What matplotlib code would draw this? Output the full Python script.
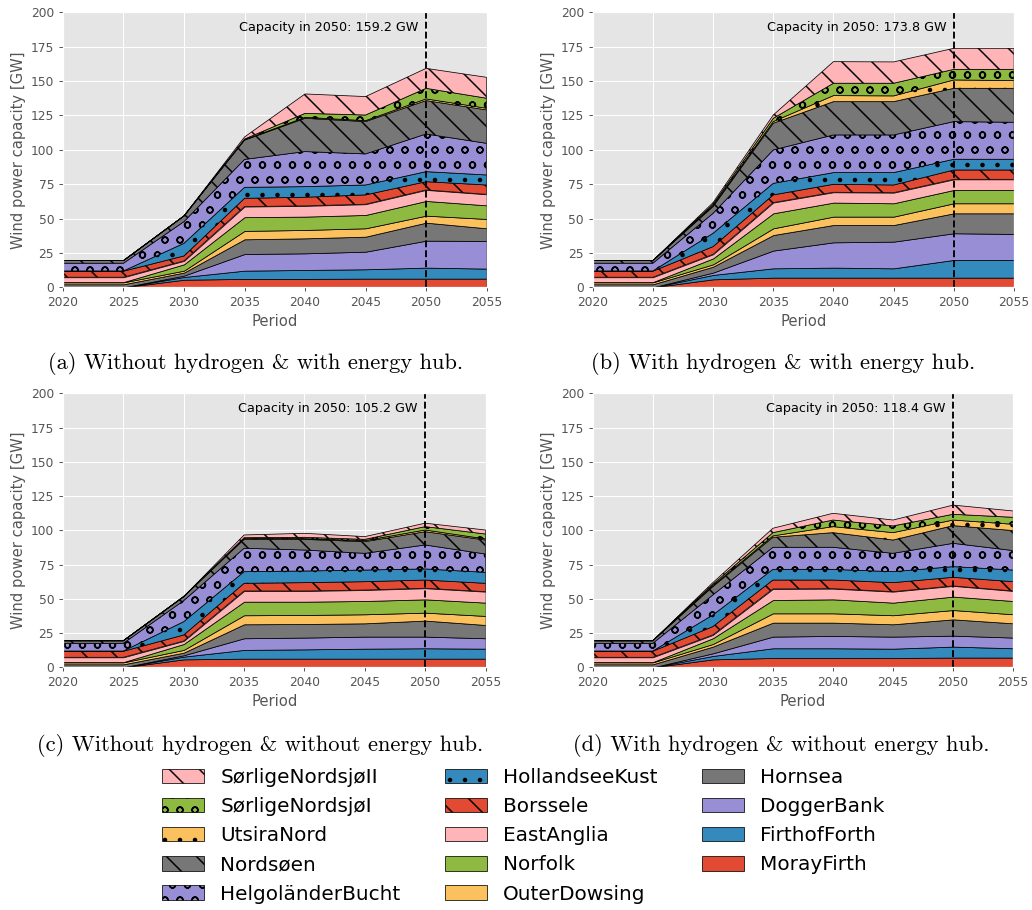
import matplotlib.pyplot as plt
import numpy as np

plt.style.use('ggplot')
plt.rcParams['font.size'] = 9.8
plt.rcParams['hatch.color'] = 'black'
plt.rcParams['hatch.linewidth'] = 1.2

years = [2020, 2025, 2030, 2035, 2040, 2045, 2050, 2055]
sites = ["MorayFirth", "FirthofForth", "DoggerBank", "Hornsea", "OuterDowsing",
         "Norfolk", "EastAnglia", "Borssele", "HollandseeKust", "HelgoländerBucht",
         "Nordsøen", "UtsiraNord", "SørligeNordsjøI", "SørligeNordsjøII"]
colors = ['#E24A33', '#348ABD', '#988ED5', '#777777', '#FBC15E', '#8EBA42', '#FFB5B8'] * 2
hatches = [None] * 7 + ['\\', '.', 'o', '\\', '.', 'o', '\\']

# capacity per site [GW], one row per site (bottom -> top), one column per period
cap_a = [[0, 0, 5.5, 6.1, 6.1, 6.3, 6.3, 6.3],
         [0, 0, 2.0, 6.0, 6.5, 6.8, 8.0, 7.3],
         [0, 0, 1.0, 12.1, 12.1, 12.8, 19.6, 20.1],
         [2.2, 2.2, 2.2, 10.7, 10.9, 10.9, 13.1, 9.2],
         [1.4, 1.4, 1.4, 6.1, 6.1, 6.1, 5.1, 6.8],
         [0.2, 0.2, 4.6, 10.0, 9.7, 9.7, 10.7, 9.9],
         [3.5, 3.5, 2.5, 7.7, 7.8, 7.8, 8.0, 8.0],
         [4.4, 4.4, 3.6, 6.0, 6.3, 6.8, 6.0, 6.8],
         [0.2, 0.2, 9.2, 8.0, 7.7, 7.2, 7.3, 7.3],
         [5.6, 5.6, 15.8, 20.3, 25.5, 22.6, 27.4, 23.0],
         [1.9, 1.9, 4.1, 14.0, 24.2, 23.5, 24.3, 24.3],
         [0, 0, 0, 0.3, 0.7, 0.7, 1.2, 1.2],
         [0, 0, 0, 0.5, 2.9, 4.1, 7.7, 7.3],
         [0, 0, 0, 1.5, 14.1, 13.4, 14.5, 15.2]]

cap_b = [[0, 0, 5.8, 7.0, 7.0, 7.0, 7.0, 7.0],
         [0, 0, 3.2, 6.8, 7.3, 6.8, 12.9, 12.9],
         [0, 0, 1.7, 12.9, 18.4, 19.4, 19.4, 18.9],
         [2.2, 2.2, 4.3, 11.3, 12.6, 12.1, 14.5, 15.0],
         [1.4, 1.4, 1.7, 4.9, 6.1, 6.1, 7.3, 7.3],
         [0.2, 0.2, 4.3, 10.9, 10.2, 9.7, 9.7, 9.7],
         [3.5, 3.5, 3.0, 7.8, 7.5, 7.7, 7.7, 7.7],
         [4.4, 4.4, 5.6, 5.6, 5.8, 5.6, 6.8, 6.8],
         [0.2, 0.2, 9.7, 8.4, 8.5, 9.0, 7.8, 7.8],
         [5.6, 5.6, 14.5, 24.3, 27.4, 27.4, 27.4, 26.9],
         [1.9, 1.9, 4.9, 19.4, 24.2, 24.2, 24.2, 24.7],
         [0, 0, 0.7, 1.2, 4.4, 4.2, 6.1, 5.6],
         [0, 0, 1.0, 2.4, 9.0, 9.2, 7.7, 8.2],
         [0, 0, 1.2, 2.4, 15.7, 15.5, 15.3, 15.3]]

cap_c = [[0, 0, 5.8, 6.3, 6.3, 6.3, 6.3, 6.3],
         [0, 0, 2.0, 6.4, 6.8, 7.3, 7.6, 7.3],
         [0, 0, 1.0, 8.5, 8.6, 8.8, 8.5, 7.6],
         [2.2, 2.2, 1.9, 10.2, 9.9, 9.7, 11.7, 9.7],
         [1.4, 1.4, 2.0, 6.6, 6.6, 6.6, 5.8, 6.6],
         [0.2, 0.2, 4.3, 9.9, 9.7, 9.7, 9.7, 9.7],
         [3.5, 3.5, 2.2, 7.8, 7.8, 8.0, 8.1, 8.0],
         [4.4, 4.4, 4.4, 5.6, 6.1, 6.1, 6.0, 6.1],
         [0.2, 0.2, 9.7, 8.5, 8.5, 8.5, 8.1, 8.0],
         [5.6, 5.6, 15.4, 17.1, 15.3, 12.2, 17.5, 13.4],
         [1.9, 1.9, 2.9, 6.5, 7.8, 8.5, 9.7, 10.2],
         [0, 0, 0, 0.8, 0.5, 0.8, 1.2, 0.8],
         [0, 0, 0, 0.4, 1.0, 0.9, 2.5, 3.6],
         [0, 0, 0, 2.0, 2.9, 2.0, 2.5, 2.9]]

cap_d = [[0, 0, 5.8, 6.8, 6.8, 6.8, 7.1, 7.1],
         [0, 0, 2.5, 7.1, 7.1, 6.8, 8.0, 6.8],
         [0, 0, 1.9, 8.5, 9.0, 8.8, 8.0, 7.8],
         [2.2, 2.2, 4.9, 10.2, 9.7, 9.0, 11.9, 10.4],
         [1.4, 1.4, 1.9, 6.8, 6.8, 6.6, 6.8, 6.6],
         [0.2, 0.2, 4.2, 9.7, 10.2, 9.2, 9.8, 9.7],
         [3.5, 3.5, 2.4, 8.1, 7.8, 8.0, 7.8, 7.3],
         [4.4, 4.4, 6.1, 6.5, 6.3, 6.6, 6.3, 6.8],
         [0.2, 0.2, 8.5, 7.8, 7.8, 8.0, 7.8, 8.5],
         [5.6, 5.6, 14.6, 16.1, 16.1, 13.4, 17.0, 14.2],
         [1.9, 1.9, 6.1, 7.3, 10.7, 9.7, 12.9, 14.6],
         [0, 0, 0.7, 1.0, 4.4, 5.4, 4.1, 4.6],
         [0, 0, 1.0, 2.4, 4.8, 4.9, 4.2, 5.1],
         [0, 0, 1.2, 3.2, 4.9, 4.3, 6.7, 4.6]]

captions = ["(a) Without hydrogen & with energy hub.",
            "(b) With hydrogen & with energy hub.",
            "(c) Without hydrogen & without energy hub.",
            "(d) With hydrogen & without energy hub."]

fig = plt.figure(figsize=(1032 / 90, 910 / 90), dpi=90)

# axes boxes [left, bottom, width, height] and caption anchors
boxes = [[0.061, 0.6843, 0.4105, 0.3022], [0.5743, 0.6843, 0.4083, 0.3022],
         [0.061, 0.2667, 0.4095, 0.3011], [0.5743, 0.2667, 0.4075, 0.3011]]
cap_pos = [(0.2476, 0.5948), (0.759, 0.5948), (0.252, 0.1751), (0.757, 0.1751)]

polys = None
for i, data in enumerate([cap_a, cap_b, cap_c, cap_d]):
    ax = fig.add_axes(boxes[i])
    p = ax.stackplot(years, np.array(data), colors=colors, edgecolor='black', linewidth=0.6)
    for coll, h in zip(p, hatches):
        if h:
            coll.set_hatch(h)
    if polys is None:
        polys = p
    total = np.array(data)[:, years.index(2050)].sum()
    ax.axvline(2050, color='black', linestyle='--', linewidth=1.5)
    ax.text(2049.4, 189, f"Capacity in 2050: {total:.1f} GW", ha='right', va='center',
            color='black', fontsize=10.2)
    ax.set_xlim(2020, 2055)
    ax.set_ylim(0, 200)
    ax.set_xticks(range(2020, 2056, 5))
    ax.set_yticks(range(0, 201, 25))
    ax.set_xlabel('Period')
    ax.set_ylabel('Wind power capacity [GW]')
    fig.text(cap_pos[i][0], cap_pos[i][1], captions[i], family='cmr10', fontsize=18,
             ha='center', va='baseline')

fig.legend(polys[::-1], sites[::-1], ncol=3, loc='upper center', bbox_to_anchor=(0.507, 0.176),
           frameon=False, fontsize=16, labelspacing=0.51, handlelength=2.1,
           handleheight=0.73, handletextpad=0.83, columnspacing=2.2)

fig.savefig('out.png', dpi=90, facecolor='white')
